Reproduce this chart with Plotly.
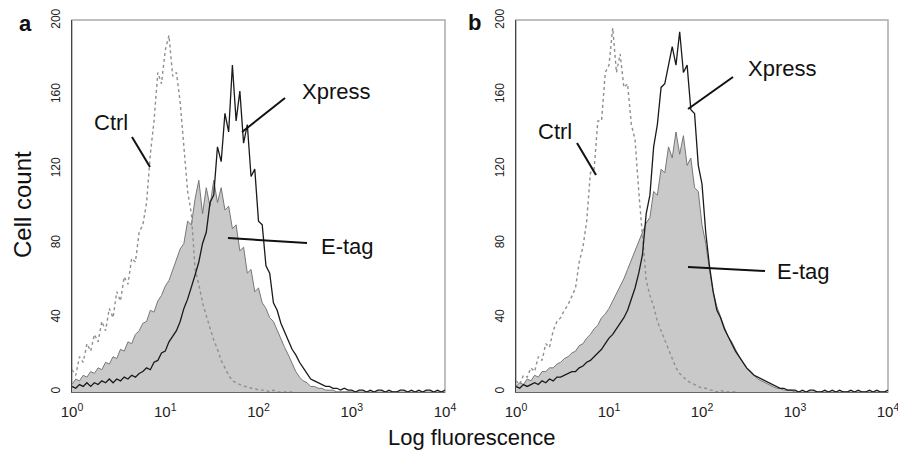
import plotly.graph_objects as go
from plotly.subplots import make_subplots

# channel grid: 101 log-spaced channels, 0.04 decade apart, 10^0 .. 10^4
log_step = 0.04
channels = [10 ** (k * log_step) for k in range(101)]

# panel a counts per channel
ctrl_a = [12, 9, 19, 16, 26, 22, 31, 27, 38, 33, 45, 40, 54, 49, 62, 58, 72, 70, 86, 90,
          102, 128, 146, 172, 166, 184, 192, 170, 172, 156, 132, 108, 96, 66, 58, 48, 41, 34, 28, 23,
          17, 13, 9, 6, 5, 4, 3, 3, 2, 2, 1, 1, 1, 0, 1, 0, 0, 0, 0, 0]
etag_a = [4, 7, 6, 9, 8, 11, 10, 13, 12, 16, 15, 19, 18, 23, 22, 27, 26, 31, 33, 37,
          38, 44, 43, 49, 52, 57, 60, 66, 71, 77, 80, 92, 90, 104, 114, 96, 110, 100, 114, 102,
          110, 98, 100, 88, 90, 76, 78, 64, 66, 54, 56, 48, 45, 40, 38, 33, 29, 24, 20, 15,
          11, 8, 6, 5, 3, 3, 2, 2, 1, 1, 1, 0, 0, 0, 0, 0]
xpress_a = [3, 2, 4, 3, 5, 3, 5, 4, 6, 5, 7, 5, 7, 6, 8, 7, 9, 8, 10, 11,
            13, 12, 16, 17, 21, 22, 27, 30, 33, 38, 45, 50, 56, 63, 70, 80, 86, 102, 106, 132,
            124, 150, 140, 176, 146, 162, 134, 144, 116, 120, 92, 90, 68, 64, 48, 44, 37, 32, 27, 23,
            20, 16, 13, 10, 7, 6, 5, 4, 3, 3, 2, 2, 1, 2, 1, 1, 0, 1, 1, 0,
            1, 0, 1, 1, 0, 1, 0, 0, 1, 1, 0, 1, 0, 1, 0, 1, 1, 0, 1, 0, 1]

# panel b counts per channel
ctrl_b = [6, 4, 9, 8, 13, 11, 19, 17, 26, 24, 33, 38, 40, 44, 47, 52, 56, 70, 78, 92,
          118, 120, 146, 146, 172, 176, 196, 172, 182, 164, 166, 144, 136, 108, 84, 60, 52, 46, 38, 33,
          27, 22, 17, 13, 10, 8, 6, 5, 4, 3, 2, 2, 1, 1, 0, 1, 0, 0, 0, 0]
etag_b = [3, 5, 4, 7, 6, 9, 8, 11, 11, 13, 13, 15, 16, 18, 19, 21, 22, 25, 26, 29,
          31, 34, 36, 40, 42, 45, 49, 53, 57, 61, 66, 71, 76, 80, 86, 91, 94, 108, 106, 120,
          118, 132, 126, 140, 128, 138, 122, 126, 110, 108, 90, 80, 66, 54, 46, 40, 35, 30, 27, 23,
          19, 16, 13, 11, 9, 7, 6, 5, 4, 3, 2, 2, 1, 1, 1, 0]
xpress_b = [3, 2, 4, 3, 4, 5, 4, 6, 5, 7, 6, 8, 8, 9, 10, 11, 11, 13, 14, 16,
            17, 19, 21, 23, 26, 29, 31, 34, 37, 40, 44, 50, 56, 64, 74, 96, 106, 132, 144, 164,
            166, 176, 186, 176, 194, 172, 176, 152, 150, 122, 112, 86, 68, 54, 44, 40, 34, 30, 26, 22,
            19, 16, 13, 11, 9, 8, 7, 6, 5, 4, 3, 2, 2, 1, 1, 1, 0, 1, 0, 1,
            1, 0, 0, 1, 0, 1, 0, 1, 0, 0, 1, 0, 1, 0, 0, 1, 0, 1, 0, 0, 1]

x_tickvals = [1, 10, 100, 1000, 10000]
x_ticktext = ["10<sup>0</sup>", "10<sup>1</sup>", "10<sup>2</sup>", "10<sup>3</sup>", "10<sup>4</sup>"]
y_tickvals = [0, 40, 80, 120, 160, 200]

W, H = 906, 453
OX, OY = 8, 8   # page body margin, figure sits 8px in from the window corner
FONT = "Arial, Liberation Sans, sans-serif"


def px(x, y):
    # window pixel -> paper fraction
    return (x - OX) / W, 1 - (y - OY) / H


fig = make_subplots(rows=1, cols=2)

panels = [(ctrl_a, etag_a, xpress_a), (ctrl_b, etag_b, xpress_b)]
for col, (ctrl, etag, xpress) in enumerate(panels, start=1):
    fig.add_trace(go.Scatter(x=channels[:len(etag)], y=etag, mode="lines",
                             line=dict(color="#777777", width=1), fill="tozeroy",
                             fillcolor="#c9c9c9", showlegend=False), row=1, col=col)
    fig.add_trace(go.Scatter(x=channels[:len(ctrl)], y=ctrl, mode="lines",
                             line=dict(color="#8f8f8f", width=1.4, dash="dot"),
                             showlegend=False), row=1, col=col)
    fig.add_trace(go.Scatter(x=channels[:len(xpress)], y=xpress, mode="lines",
                             line=dict(color="#1a1a1a", width=1.3),
                             showlegend=False), row=1, col=col)

fig.update_xaxes(type="log", range=[0, 4], tickvals=x_tickvals, ticktext=x_ticktext,
                 showgrid=False, zeroline=False, showline=True, linecolor="#666", linewidth=1,
                 ticks="", ticklabelstandoff=6, automargin=False,
                 tickfont=dict(family=FONT, size=15, color="#222"))
fig.update_yaxes(range=[0, 200.3], tickvals=y_tickvals, tickangle=-90,
                 showgrid=False, zeroline=False, showline=True, linecolor="#444", linewidth=1,
                 ticks="", ticklabelstandoff=6, automargin=False,
                 tickfont=dict(family=FONT, size=12, color="#222"))

xa0, ytop = px(72, 20)
xa1, ybot = px(445, 392)
xb0, _ = px(516, 20)
xb1, _ = px(888, 20)
fig.update_layout(
    xaxis=dict(domain=[xa0, xa1]),
    xaxis2=dict(domain=[xb0, xb1]),
    yaxis=dict(domain=[ybot, ytop]),
    yaxis2=dict(domain=[ybot, ytop]),
)

# light frame round each plot area
for xr, yr in (("x domain", "y domain"), ("x2 domain", "y2 domain")):
    fig.add_shape(type="rect", xref=xr, yref=yr, x0=0, x1=1, y0=0, y1=1,
                  line=dict(color="#aaaaaa", width=1.5), layer="below")

labels = [
    ("Ctrl", 111, 123, (132, 137), (150, 167)),
    ("Xpress", 336, 91, (285, 98), (242, 132)),
    ("E-tag", 347, 246, (307, 243), (228, 238)),
    ("Ctrl", 555, 131, (577, 143), (596, 175)),
    ("Xpress", 782, 68, (733, 77), (688, 109)),
    ("E-tag", 803, 271, (765, 271), (688, 267)),
]
for text, tx, ty, p0, p1 in labels:
    ax, ay = px(tx, ty)
    fig.add_annotation(text=text, x=ax, y=ay, xref="paper", yref="paper", showarrow=False,
                       xanchor="center", yanchor="middle",
                       font=dict(family=FONT, size=22, color="#111"))
    x0, y0 = px(*p0)
    x1, y1 = px(*p1)
    fig.add_shape(type="line", xref="paper", yref="paper", x0=x0, y0=y0, x1=x1, y1=y1,
                  line=dict(color="#111", width=2))

for text, tx, ty in (("a", 25, 24), ("b", 475, 22)):
    ax, ay = px(tx, ty)
    fig.add_annotation(text="<b>%s</b>" % text, x=ax, y=ay, xref="paper", yref="paper",
                       showarrow=False, xanchor="center", yanchor="middle",
                       font=dict(family=FONT, size=22, color="#111"))

ax, ay = px(22, 205)
fig.add_annotation(text="Cell count", x=ax, y=ay, xref="paper", yref="paper", showarrow=False,
                   xanchor="center", yanchor="middle", textangle=-90,
                   font=dict(family=FONT, size=24, color="#111"))
ax, ay = px(472, 437)
fig.add_annotation(text="Log fluorescence", x=ax, y=ay, xref="paper", yref="paper",
                   showarrow=False, xanchor="center", yanchor="middle",
                   font=dict(family=FONT, size=22, color="#111"))

fig.update_layout(width=W, height=H, margin=dict(l=0, r=0, t=0, b=0),
                  paper_bgcolor="white", plot_bgcolor="white")

fig.write_html("out.html")
